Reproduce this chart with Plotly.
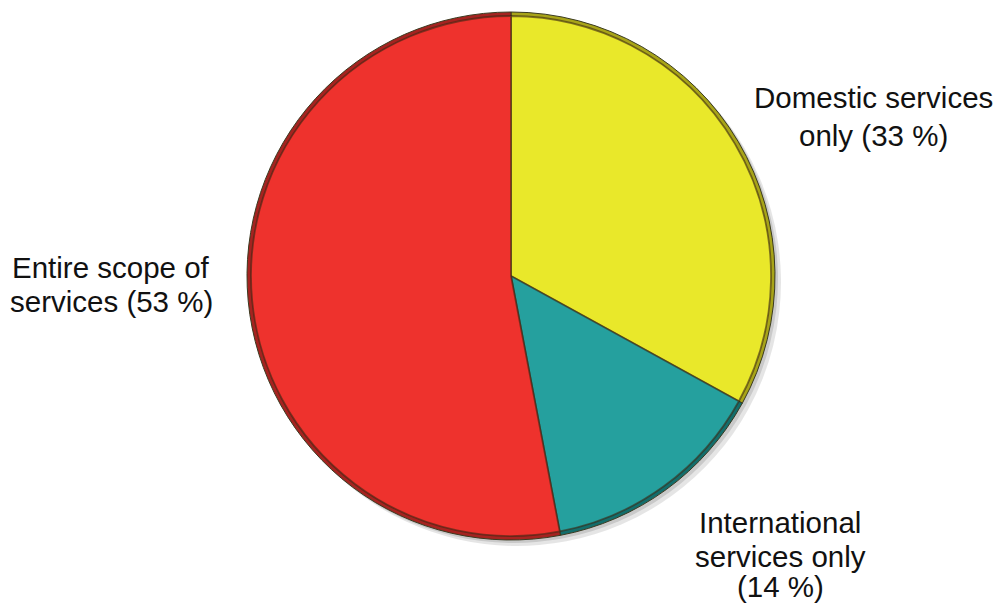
import plotly.graph_objects as go

# Share of firms by scope of services offered
categories = ["Domestic services only", "International services only", "Entire scope of services"]
shares = [33, 14, 53]
colors = ["#E9E82A", "#25A09E", "#EE322D"]
rim_colors = ["#A8A418", "#136D6B", "#A52320"]

W, H = 996, 605
cx, cy, r = 511, 276, 264


def dom(cx_, cy_, r_):
    return dict(x=[(cx_ - r_) / W, (cx_ + r_) / W],
                y=[1 - (cy_ + r_) / H, 1 - (cy_ - r_) / H])


common = dict(values=shares, labels=categories, sort=False, direction="clockwise",
              rotation=0, textinfo="none", hoverinfo="label+percent", showlegend=False)

fig = go.Figure()
# soft drop shadow
fig.add_trace(go.Pie(**common, domain=dom(cx + 6, cy + 6, r),
                     marker=dict(colors=["rgba(0,0,0,0.10)"] * 3, line=dict(width=0))))
fig.add_trace(go.Pie(**common, domain=dom(cx + 3, cy + 3, r),
                     marker=dict(colors=["rgba(0,0,0,0.12)"] * 3, line=dict(width=0))))
# darker bevel rim
fig.add_trace(go.Pie(**common, domain=dom(cx, cy, r),
                     marker=dict(colors=rim_colors, line=dict(color="#3a3a20", width=1))))
# main faces
fig.add_trace(go.Pie(**common, domain=dom(cx, cy, r - 4),
                     marker=dict(colors=colors, line=dict(color="rgba(60,40,20,0.6)", width=1.8))))

font = dict(family="Liberation Sans, Arial, sans-serif", size=29.5, color="#111111")

# (text, center x, baseline y)
label_lines = [
    ("Domestic services", 873, 106),
    ("only (33 %)", 873, 144),
    ("Entire scope of", 111, 276),
    ("services (53 %)", 111, 310),
    ("International", 780, 531),
    ("services only", 780, 565),
    ("(14 %)", 780, 597),
]

for text, x, base in label_lines:
    # keep each text box inside the page
    y_px = min(base + 10, H)
    fig.add_annotation(text=text, x=x / W, y=1 - y_px / H, xref="paper", yref="paper",
                       xanchor="center", yanchor="bottom", showarrow=False,
                       font=font)

fig.update_layout(width=W, height=H, margin=dict(l=0, r=0, t=0, b=0),
                  paper_bgcolor="white", plot_bgcolor="white")

fig.write_html("out.html")
